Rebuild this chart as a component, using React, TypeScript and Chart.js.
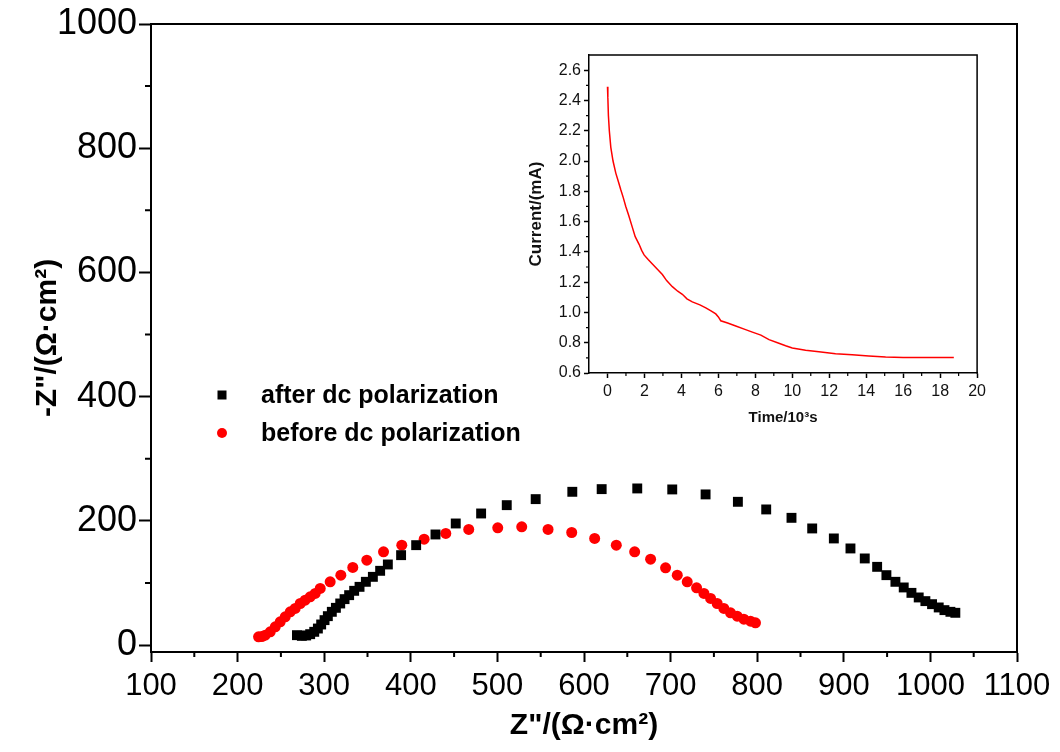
import React, { useEffect, useRef } from 'react';
import { Chart, registerables } from 'chart.js';

Chart.register(...registerables);

// ---------- Main chart data (Nyquist plot) ----------
const seriesLabels = ['after dc polarization', 'before dc polarization'];

const afterX = [
  268.5, 274.2, 279.2, 283.8, 288.5, 292.7, 296.5, 300.4, 304.2, 308.8, 313.5, 318.5, 323.5, 328.8,
  334.6, 340.8, 348.1, 356.2, 364.6, 373.5, 388.8, 406.2, 428.5, 451.9, 481.2, 510.8, 544.2, 586.5,
  620.4, 661.5, 701.9, 740.4, 777.7, 810.4, 839.6, 863.5, 888.5, 907.7, 924.2, 938.5, 949.2, 959.6,
  969.2, 978.1, 986.5, 994.2, 1001.9, 1009.6, 1016.2, 1023.1, 1028.8,
];
const afterY = [
  16.1, 15.0, 15.6, 17.7, 21.5, 26.8, 33.3, 40.3, 46.7, 53.7, 60.1, 67.1, 74.1, 80.5,
  87.5, 93.9, 102.0, 110.0, 119.7, 129.9, 144.9, 161.0, 178.2, 195.9, 212.0, 225.4, 235.1, 246.9,
  251.2, 252.3, 250.7, 242.7, 230.8, 218.5, 205.0, 187.9, 171.8, 155.7, 139.6, 126.1, 112.7, 102.0,
  92.9, 84.2, 76.8, 70.9, 66.0, 60.7, 56.4, 53.7, 52.1,
];

const beforeX = [
  224.2, 228.0, 231.9, 237.7, 243.5, 249.2, 255.0, 260.8, 266.5, 272.3, 278.0, 283.8, 289.6, 295.4,
  306.9, 319.2, 333.0, 349.2, 368.5, 389.6, 415.4, 440.4, 466.9, 500.4, 528.1, 558.5, 585.8, 612.3,
  637.3, 658.5, 676.9, 694.2, 707.7, 719.2, 730.0, 738.5, 746.2, 753.8, 761.5, 769.2, 776.9, 784.6,
  792.3, 798.0,
];
const beforeY = [
  13.4, 13.8, 16.1, 21.5, 29.5, 37.6, 45.7, 53.7, 59.1, 67.1, 72.5, 77.9, 83.3, 91.3,
  102.0, 112.7, 125.1, 136.9, 150.3, 161.0, 170.7, 179.9, 186.3, 189.0, 190.5, 186.3, 181.4, 171.8,
  161.0, 150.3, 138.5, 124.5, 112.7, 102.0, 92.3, 83.3, 75.2, 67.1, 59.1, 52.1, 46.7, 41.9,
  38.6, 35.9,
];

const mainXTicks = [100, 200, 300, 400, 500, 600, 700, 800, 900, 1000, 1100];
const mainXMinor = [150, 250, 350, 450, 550, 650, 750, 850, 950, 1050];
const mainYTicks = [0, 200, 400, 600, 800, 1000];
const mainYMinor = [100, 300, 500, 700, 900];

// ---------- Inset data (current vs time) ----------
const timeK = [
  0.0, 0.02, 0.05, 0.1, 0.18, 0.3, 0.45, 0.6, 0.72, 0.85, 0.99, 1.15, 1.35, 1.5, 1.71, 1.85, 1.98,
  2.2, 2.43, 2.7, 2.97, 3.2, 3.51, 3.8, 4.05, 4.3, 4.59, 5.0, 5.32, 5.6, 5.86, 6.0, 6.13, 6.5, 6.94,
  7.4, 7.84, 8.3, 8.74, 9.2, 9.64, 10.0, 10.72, 11.44, 12.34, 13.24, 14.14, 15.05, 16.0, 16.85,
  17.8, 18.74,
];
const currentMA = [
  2.49, 2.42, 2.3, 2.2, 2.09, 2.0, 1.92, 1.86, 1.81, 1.76, 1.7, 1.64, 1.56, 1.5, 1.45, 1.41, 1.38,
  1.35, 1.32, 1.285, 1.25, 1.21, 1.17, 1.14, 1.12, 1.09, 1.07, 1.05, 1.03, 1.01, 0.99, 0.97, 0.945,
  0.93, 0.91, 0.89, 0.87, 0.85, 0.82, 0.8, 0.78, 0.765, 0.75, 0.74, 0.727, 0.72, 0.712, 0.705,
  0.703, 0.703, 0.703, 0.703,
];

const insetXTicks = [0, 2, 4, 6, 8, 10, 12, 14, 16, 18, 20];
const insetXMinor = [1, 3, 5, 7, 9, 11, 13, 15, 17, 19];
const insetYTicks = [0.6, 0.8, 1.0, 1.2, 1.4, 1.6, 1.8, 2.0, 2.2, 2.4, 2.6];
const insetYMinor = [0.7, 0.9, 1.1, 1.3, 1.5, 1.7, 1.9, 2.1, 2.3, 2.5];

const FONT = "'Liberation Sans', Arial, Helvetica, sans-serif";

type FrameCfg = {
  xMinor: number[];
  yMinor: number[];
  xLen: number;
  yLen: number;
  tickWidth: number;
  frameWidth: number;
};

function makeFramePlugin(id: string, cfg: FrameCfg) {
  return {
    id,
    afterDraw(chart: any) {
      const { ctx, chartArea, scales } = chart;
      ctx.save();
      ctx.strokeStyle = '#000';
      ctx.lineWidth = cfg.tickWidth;
      ctx.beginPath();
      for (const v of cfg.xMinor) {
        const px = scales.x.getPixelForValue(v);
        ctx.moveTo(px, chartArea.bottom);
        ctx.lineTo(px, chartArea.bottom + cfg.xLen);
      }
      for (const v of cfg.yMinor) {
        const py = scales.y.getPixelForValue(v);
        ctx.moveTo(chartArea.left, py);
        ctx.lineTo(chartArea.left - cfg.yLen, py);
      }
      ctx.stroke();
      ctx.lineWidth = cfg.frameWidth;
      ctx.beginPath();
      ctx.moveTo(chartArea.left, chartArea.top);
      ctx.lineTo(chartArea.right, chartArea.top);
      ctx.lineTo(chartArea.right, chartArea.bottom + cfg.frameWidth / 2);
      ctx.stroke();
      ctx.restore();
    },
  };
}

const legendPlugin = {
  id: 'customLegend',
  afterDraw(chart: any) {
    const { ctx, chartArea } = chart;
    const x0 = chartArea.left + 71;
    const y0 = chartArea.top + 371;
    const gap = 38;
    ctx.save();
    chart.data.datasets.forEach((ds: any, i: number) => {
      const y = y0 + i * gap;
      ctx.fillStyle = ds.backgroundColor;
      if (ds.pointStyle === 'rect') {
        ctx.fillRect(x0 - 4.5, y - 4.5, 9, 9);
      } else {
        ctx.beginPath();
        ctx.arc(x0, y, 5, 0, Math.PI * 2);
        ctx.fill();
      }
      ctx.fillStyle = '#000';
      ctx.font = `bold 25px ${FONT}`;
      ctx.textAlign = 'left';
      ctx.textBaseline = 'middle';
      ctx.fillText(ds.label, x0 + 39, y + 1);
    });
    ctx.restore();
  },
};

function MainChart() {
  const ref = useRef<HTMLCanvasElement | null>(null);
  useEffect(() => {
    if (!ref.current) return;
    const chart = new Chart(ref.current, {
      type: 'scatter',
      data: {
        datasets: [
          {
            label: seriesLabels[0],
            data: afterX.map((x, i) => ({ x, y: afterY[i] })),
            pointStyle: 'rect',
            pointRadius: 7,
            backgroundColor: '#000000',
            borderColor: '#000000',
            borderWidth: 0,
          },
          {
            label: seriesLabels[1],
            data: beforeX.map((x, i) => ({ x, y: beforeY[i] })),
            pointStyle: 'circle',
            pointRadius: 5.5,
            backgroundColor: '#ff0000',
            borderColor: '#ff0000',
            borderWidth: 0,
          },
        ],
      },
      options: {
        animation: false,
        responsive: false,
        layout: { padding: { left: 0, top: 24, right: 43, bottom: 0 } },
        plugins: { legend: { display: false }, tooltip: { enabled: false } },
        scales: {
          x: {
            type: 'linear',
            min: 100,
            max: 1100,
            afterBuildTicks: (s: any) => {
              s.ticks = mainXTicks.map((v) => ({ value: v }));
            },
            afterFit: (s: any) => {
              s.height = 100;
            },
            grid: { drawOnChartArea: false, drawTicks: true, tickLength: 10, tickColor: '#000', tickWidth: 2 },
            border: { color: '#000', width: 2 },
            ticks: {
              font: { family: FONT, size: 31 },
              color: '#000',
              padding: 6,
              maxRotation: 0,
              autoSkip: false,
              callback: (v: any) => String(v),
            },
            title: {
              display: true,
              text: 'Z"/(Ω·cm²)',
              font: { family: FONT, size: 30, weight: 'bold' },
              color: '#000',
              padding: { top: 0, bottom: 8 },
            },
          },
          y: {
            type: 'linear',
            min: -11,
            max: 1000,
            afterBuildTicks: (s: any) => {
              s.ticks = mainYTicks.map((v) => ({ value: v }));
            },
            afterFit: (s: any) => {
              s.width = 151;
            },
            grid: { drawOnChartArea: false, drawTicks: true, tickLength: 12, tickColor: '#000', tickWidth: 2 },
            border: { color: '#000', width: 2 },
            ticks: {
              font: { family: FONT, size: 36 },
              color: '#000',
              padding: 2,
              autoSkip: false,
              callback: (v: any) => String(v),
            },
            title: {
              display: true,
              text: '-Z"/(Ω·cm²)',
              font: { family: FONT, size: 30, weight: 'bold' },
              color: '#000',
              padding: { top: 30, bottom: 0 },
            },
          },
        },
      },
      plugins: [
        makeFramePlugin('mainFrame', {
          xMinor: mainXMinor,
          yMinor: mainYMinor,
          xLen: 5,
          yLen: 6,
          tickWidth: 2,
          frameWidth: 2,
        }),
        legendPlugin,
      ],
    } as any);
    return () => chart.destroy();
  }, []);
  return (
    <canvas
      ref={ref}
      width={1060}
      height={752}
      style={{ position: 'absolute', left: 0, top: 0, width: 1060, height: 752 }}
    />
  );
}

function InsetChart() {
  const ref = useRef<HTMLCanvasElement | null>(null);
  useEffect(() => {
    if (!ref.current) return;
    const chart = new Chart(ref.current, {
      type: 'scatter',
      data: {
        datasets: [
          {
            label: 'Current',
            data: timeK.map((x, i) => ({ x, y: currentMA[i] })),
            showLine: true,
            pointRadius: 0,
            borderColor: '#ff0000',
            backgroundColor: '#ff0000',
            borderWidth: 1.5,
            tension: 0,
          },
        ],
      },
      options: {
        animation: false,
        responsive: false,
        layout: { padding: { left: 0, top: 15, right: 12, bottom: 0 } },
        plugins: { legend: { display: false }, tooltip: { enabled: false } },
        scales: {
          x: {
            type: 'linear',
            min: -1,
            max: 20,
            afterBuildTicks: (s: any) => {
              s.ticks = insetXTicks.map((v) => ({ value: v }));
            },
            afterFit: (s: any) => {
              s.height = 62;
            },
            grid: { drawOnChartArea: false, drawTicks: true, tickLength: 5, tickColor: '#000', tickWidth: 1.5 },
            border: { color: '#000', width: 1.5 },
            ticks: {
              font: { family: FONT, size: 16 },
              color: '#111',
              padding: 4,
              maxRotation: 0,
              autoSkip: false,
              callback: (v: any) => String(v),
            },
            title: {
              display: true,
              text: 'Time/10³s',
              font: { family: FONT, size: 15, weight: 'bold' },
              color: '#111',
              padding: { top: 0, bottom: 8 },
            },
          },
          y: {
            type: 'linear',
            min: 0.6,
            max: 2.7,
            afterBuildTicks: (s: any) => {
              s.ticks = insetYTicks.map((v) => ({ value: v }));
            },
            afterFit: (s: any) => {
              s.width = 69;
            },
            grid: { drawOnChartArea: false, drawTicks: true, tickLength: 5, tickColor: '#000', tickWidth: 1.5 },
            border: { color: '#000', width: 1.5 },
            ticks: {
              font: { family: FONT, size: 16 },
              color: '#111',
              padding: 3,
              autoSkip: false,
              callback: (v: any) => Number(v).toFixed(1),
            },
            title: {
              display: true,
              text: 'Current/(mA)',
              font: { family: FONT, size: 17, weight: 'bold' },
              color: '#111',
              padding: { top: 6, bottom: 0 },
            },
          },
        },
      },
      plugins: [
        makeFramePlugin('insetFrame', {
          xMinor: insetXMinor,
          yMinor: insetYMinor,
          xLen: 3,
          yLen: 3,
          tickWidth: 1.2,
          frameWidth: 1.5,
        }),
      ],
    } as any);
    return () => chart.destroy();
  }, []);
  return (
    <canvas
      ref={ref}
      width={470}
      height={395}
      style={{ position: 'absolute', left: 520, top: 40, width: 470, height: 395 }}
    />
  );
}

export default function App() {
  return (
    <div style={{ position: 'absolute', left: 0, top: 0, width: 1060, height: 752, background: '#fff' }}>
      <MainChart />
      <InsetChart />
    </div>
  );
}
